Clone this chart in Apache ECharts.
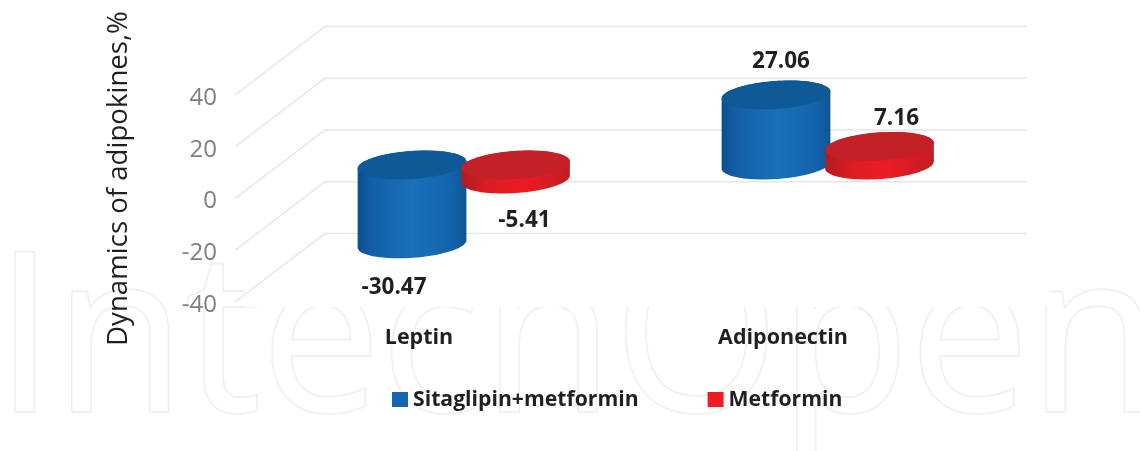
<!DOCTYPE html>
<html><head><meta charset="utf-8">
<style>html,body{margin:0;padding:0;background:#fff}#c{width:1140px;height:451px}</style>
<script src="https://cdn.jsdelivr.net/npm/echarts@6/dist/echarts.min.js"></script>
</head><body><div id="c"></div>
<script>
const categories = ['Leptin', 'Adiponectin'];
const sitagliptinMetformin = [-30.47, 27.06];
const metformin = [-5.41, 7.16];
const yTicks = [-40, -20, 0, 20, 40];
const seriesNames = ['Sitaglipin+metformin', 'Metformin'];

const FONT = '"Open Sans", sans-serif';
const chart = echarts.init(document.getElementById('c'), null, {renderer: 'canvas'});

const RX = 54.5, RY = 14, TILT = -4 * Math.PI / 180, BASE_SHIFT = -33.5;
function ellipsePts(cx, cy, from, to, n) {
  const pts = [];
  for (let i = 0; i <= n; i++) {
    const t = from + (to - from) * i / n;
    const ex = RX * Math.cos(t), ey = RY * Math.sin(t);
    pts.push([cx + ex * Math.cos(TILT) - ey * Math.sin(TILT), cy + ex * Math.sin(TILT) + ey * Math.cos(TILT)]);
  }
  return pts;
}
function cylinder(dx, side, top, labelOffsets) {
  return function (params, api) {
    const cat = api.value(0), v = api.value(1);
    const c0 = api.coord([cat, 0]), cv = api.coord([cat, v]);
    const cx = c0[0] + dx;
    const yBase = c0[1] + BASE_SHIFT, yVal = cv[1] + BASE_SHIFT;
    const yTop = Math.min(yBase, yVal), yBot = Math.max(yBase, yVal);
    const sidePts = ellipsePts(cx, yBot, 0, Math.PI, 48).concat(ellipsePts(cx, yTop, Math.PI, 2 * Math.PI, 48));
    const off = labelOffsets[params.dataIndex];
    const labelY = (v < 0 ? yBot : yTop) + off[1];
    return {type: 'group', children: [
      {type: 'polygon', shape: {points: sidePts}, style: {fill: {type: 'linear', x: 0, y: 0, x2: 1, y2: 0, global: false, colorStops: side}}},
      {type: 'polygon', shape: {points: ellipsePts(cx, yTop, 0, 2 * Math.PI, 96)}, style: {fill: top}},
      {type: 'text', style: {text: v.toFixed(2), x: cx + off[0], y: labelY, align: 'center', verticalAlign: 'middle',
        font: 'bold 22.5px ' + FONT, fill: '#231f20'}}
    ]};
  };
}

const blueStops = [{offset: 0, color: '#0d4f8e'}, {offset: 0.12, color: '#125ea6'}, {offset: 0.5, color: '#1a71b9'}, {offset: 0.85, color: '#1364ad'}, {offset: 1, color: '#0f5596'}];
const redStops = [{offset: 0, color: '#b01c22'}, {offset: 0.25, color: '#dc1c24'}, {offset: 0.55, color: '#ed1c24'}, {offset: 1, color: '#c41c24'}];

chart.setOption({
  animation: false,
  backgroundColor: '#fff',
  graphic: [
    {type: 'text', z: -10, silent: true, x: -5, y: 238, scaleX: 0.964,
      style: {text: 'IntechOpen', x: 0, y: 0, align: 'left',
        font: '221px "Open Sans", sans-serif', fill: '#fff', stroke: '#efefef', lineWidth: 3.5, lineJoin: 'round'}},
    {type: 'rect', z: -9, silent: true, shape: {x: 245, y: 0, width: 805, height: 307}, style: {fill: '#fff'}}
  ],
  legend: {
    data: seriesNames, left: 387, top: 384, icon: 'rect', itemWidth: 16, itemHeight: 15, itemGap: 69,
    textStyle: {fontFamily: FONT, fontWeight: 'bold', fontSize: 21.2, color: '#231f20', padding: [0, 0, 0, 0]}
  },
  grid: {left: 237, right: 175, top: 95, bottom: 149, containLabel: false},
  xAxis: {type: 'category', data: categories, axisLine: {show: false}, axisTick: {show: false}, splitLine: {show: false},
    axisLabel: {margin: 25, fontFamily: FONT, fontWeight: 'bold', fontSize: 21.5, color: '#231f20'}},
  yAxis: {type: 'value', min: -40, max: 40, interval: 20, axisLine: {show: false}, axisTick: {show: false}, splitLine: {show: false},
    axisLabel: {margin: 20, fontFamily: FONT, fontSize: 24, color: '#7f7f7f', verticalAlign: 'top', lineHeight: 6},
    name: 'Dynamics of adipokines,%', nameLocation: 'middle', nameGap: 104, nameRotate: 90,
    nameTextStyle: {fontFamily: FONT, fontSize: 27.6, color: '#231f20', padding: [0, 0, 0, 40]}},
  series: [
    {type: 'custom', name: 'grid', silent: true, z: 1, data: yTicks.map(t => [0, t]), encode: {x: 0, y: 1},
      renderItem(params, api) {
        const y = api.coord([0, api.value(1)])[1], x = 235;
        const s = {stroke: '#e6e6e6', lineWidth: 1.5, fill: 'none'};
        return {type: 'polyline', shape: {points: [[x, y], [x + 90, y - 68.5], [1027, y - 68.5]]}, style: s};
      }},
    {type: 'custom', name: seriesNames[0], z: 3, itemStyle: {color: '#1565ad'}, encode: {x: 0, y: 1},
      data: sitagliptinMetformin.map((v, i) => [i, v]),
      renderItem: cylinder(-7, blueStops, '#0e5a97', [[-18, 44], [5, -33]])},
    {type: 'custom', name: seriesNames[1], z: 4, itemStyle: {color: '#ed1c24'}, encode: {x: 0, y: 1},
      data: metformin.map((v, i) => [i, v]),
      renderItem: cylinder(96.5, redStops, '#c32027', [[9, 42], [17, -28]])}
  ]
});
</script></body></html>
